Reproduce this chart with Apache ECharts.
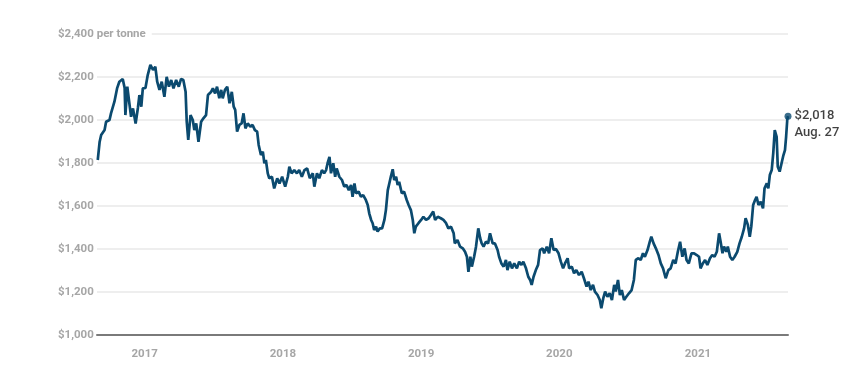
<!DOCTYPE html>
<html><head><meta charset="utf-8">
<script src="https://cdn.jsdelivr.net/npm/echarts@6/dist/echarts.min.js"></script>
<style>html,body{margin:0;padding:0;background:#fff}#c{width:844px;height:371px}</style>
</head><body><div id="c"></div>
<script>
// Dates are given as day offsets from startDate
const startDate = [2016, 7, 28];   // 2016-08-28 (UTC, month 0-based)
const endDate = [2021, 7, 27];     // 2021-08-27
const dayOffsets = [2,7,11,20,24,33,37,46,53,59,68,73,75,80,86,90,95,102,108,112,117,121,128,134,141,148,154,159,165,171,178,184,190,196,202,209,216,222,228,234,237,241,247,253,257,262,268,275,281,288,293,301,306,312,317,323,328,332,338,344,350,356,361,365,370,376,382,387,392,398,405,411,417,423,427,433,438,442,446,451,455,462,468,476,482,489,497,504,508,514,521,528,534,541,548,555,562,570,574,581,587,594,600,605,609,614,618,624,629,633,640,647,653,659,665,671,675,680,684,691,697,703,710,715,719,724,728,732,737,741,747,753,759,763,768,772,776,781,785,790,794,798,805,811,818,823,829,834,838,842,849,856,862,869,876,882,888,893,900,908,915,922,928,935,942,945,952,959,966,972,977,981,986,990,996,1001,1007,1012,1016,1021,1027,1033,1038,1045,1051,1058,1062,1068,1074,1080,1084,1090,1096,1102,1109,1115,1121,1126,1133,1139,1144,1148,1153,1159,1165,1170,1177,1181,1188,1194,1200,1206,1212,1219,1225,1231,1236,1243,1247,1254,1260,1266,1273,1280,1286,1293,1298,1304,1310,1315,1322,1328,1332,1337,1342,1348,1354,1360,1366,1370,1376,1381,1386,1392,1398,1405,1412,1418,1423,1430,1436,1442,1447,1454,1460,1464,1470,1476,1483,1489,1495,1502,1509,1515,1522,1528,1534,1540,1546,1552,1557,1563,1570,1577,1584,1590,1594,1600,1606,1612,1619,1625,1631,1637,1643,1647,1652,1656,1662,1666,1672,1678,1684,1691,1697,1703,1709,1713,1719,1724,1728,1733,1738,1742,1747,1753,1759,1763,1769,1773,1777,1782,1786,1790,1795,1798,1803,1808,1813,1817,1820,1823,1825];
const prices = [1814,1899,1930,1953,1992,2000,2031,2085,2147,2178,2191,2149,2023,2155,2070,2015,2054,1984,2056,2116,2062,2147,2149,2209,2256,2233,2248,2178,2140,2178,2108,2201,2155,2186,2147,2186,2155,2191,2186,2131,1992,1907,2023,2000,1953,1984,1899,1992,2008,2023,2116,2130,2147,2124,2155,2101,2140,2101,2140,2155,2078,2131,2062,2047,1946,1977,1984,2031,1961,1984,1969,1977,1953,1946,1884,1837,1853,1799,1814,1752,1729,1736,1682,1729,1705,1736,1690,1736,1783,1752,1767,1752,1767,1736,1767,1775,1729,1752,1690,1752,1729,1767,1752,1767,1799,1829,1752,1799,1736,1775,1736,1721,1690,1698,1674,1698,1643,1705,1659,1667,1643,1651,1628,1605,1566,1535,1520,1488,1504,1481,1496,1496,1535,1581,1674,1705,1736,1771,1721,1736,1698,1713,1659,1667,1628,1605,1581,1535,1473,1504,1520,1535,1550,1535,1543,1558,1574,1535,1550,1543,1535,1520,1496,1504,1473,1426,1442,1411,1403,1387,1364,1294,1364,1318,1364,1411,1496,1450,1426,1411,1434,1426,1473,1426,1426,1395,1364,1333,1318,1349,1302,1341,1310,1333,1310,1341,1326,1341,1310,1271,1256,1233,1271,1302,1326,1395,1403,1380,1411,1380,1450,1395,1400,1380,1341,1310,1333,1357,1310,1318,1287,1302,1279,1294,1264,1225,1248,1209,1233,1202,1186,1163,1124,1170,1202,1178,1194,1163,1233,1202,1256,1186,1209,1163,1178,1194,1209,1256,1349,1357,1349,1380,1364,1395,1434,1457,1426,1403,1372,1333,1310,1264,1302,1310,1349,1333,1387,1434,1364,1403,1349,1333,1380,1380,1372,1364,1310,1333,1349,1326,1357,1372,1364,1387,1473,1434,1380,1411,1387,1411,1364,1349,1364,1387,1426,1457,1496,1543,1512,1457,1504,1605,1628,1643,1605,1620,1589,1682,1705,1682,1744,1767,1845,1953,1922,1783,1760,1799,1837,1860,1922,2000,2018];
const yearLabels = [2017, 2018, 2019, 2020, 2021];
const yMin = 1000, yMax = 2400, yStep = 200;
const unitText = ' per tonne';
const lastPriceText = '$2,018';
const lastDateText = 'Aug. 27';

const DAY = 86400000;
const t0 = Date.UTC(startDate[0], startDate[1], startDate[2]);
const tEnd = Date.UTC(endDate[0], endDate[1], endDate[2]);
const toDay = t => Math.round((t - t0) / DAY);
const seriesData = dayOffsets.map((d, i) => [d, prices[i]]);
const last = seriesData[seriesData.length - 1];
const yearTicks = yearLabels.map(y => toDay(Date.UTC(y, 0, 1)));
const fmt = v => '$' + v.toLocaleString('en-US');
const lineColor = '#0b4a6f';
const labelFont = 'Roboto, "Liberation Sans", sans-serif';
const axisGrey = '#a6a6a6';

const chart = echarts.init(document.getElementById('c'), null, {renderer: 'canvas'});
chart.setOption({
  animation: false,
  backgroundColor: '#fff',
  grid: {left: 97, right: 56, top: 34, bottom: 36},
  xAxis: {
    type: 'value', min: 0, max: toDay(tEnd),
    axisLine: {show: true, onZero: false, lineStyle: {color: '#7a7a7a', width: 2}},
    axisTick: {show: false},
    splitLine: {show: false},
    axisLabel: {
      customValues: yearTicks,
      formatter: v => String(yearLabels[yearTicks.indexOf(v)]),
      color: axisGrey, fontSize: 11.5, fontWeight: 'bold', fontFamily: labelFont, margin: 13
    }
  },
  yAxis: {
    type: 'value', min: yMin, max: yMax, interval: yStep,
    axisLine: {show: false}, axisTick: {show: false},
    splitLine: {lineStyle: {color: '#e9e9e9', width: 1.5}},
    axisLabel: {
      align: 'left', margin: 39,
      color: axisGrey, fontSize: 11.5, fontWeight: 'bold', fontFamily: labelFont,
      formatter: v => v === yMax ? '{top|' + fmt(v) + unitText + '}' : fmt(v),
      rich: {top: {color: axisGrey, fontSize: 11.5, fontWeight: 'bold', fontFamily: labelFont,
                   backgroundColor: '#fff', padding: [3, 6, 3, 0]}}
    }
  },
  series: [
    {type: 'line', data: seriesData, showSymbol: false, symbol: 'none',
     lineStyle: {color: lineColor, width: 2.7}, z: 3},
    {type: 'scatter', data: [last], symbolSize: 7, itemStyle: {color: lineColor}, z: 4,
     label: {show: true, position: 'right', distance: 3, offset: [0, 8],
       formatter: () => '{a|' + lastPriceText + '}\n{a|' + lastDateText + '}',
       rich: {a: {color: '#111', fontSize: 13, fontWeight: 500, fontFamily: labelFont, lineHeight: 16.5}}}}
  ]
});
</script></body></html>
